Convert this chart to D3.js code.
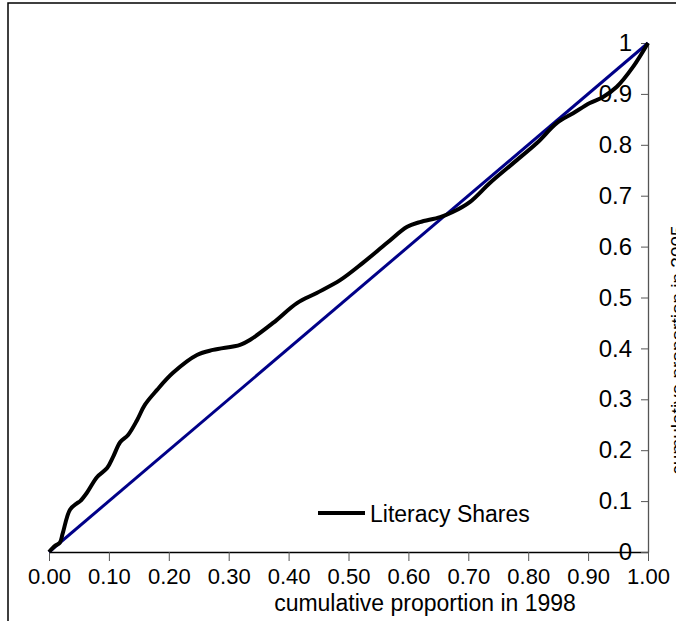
<!DOCTYPE html>
<html lang="en">
  <head>
    <meta charset="utf-8">
    <title>Literacy Shares</title>
    <script src="https://cdn.jsdelivr.net/npm/d3@7"></script>
    <style>
      body { margin: 0; background: #fff; }
      text { font-family: "Liberation Sans", Arial, sans-serif; fill: #000; }
    </style>
  </head>
  <body>
    <script>

      // cumulative proportion in 1998 (x) and in 2005 (y)
      var share1998 = [0, 0.010, 0.018, 0.023, 0.035, 0.047, 0.052, 0.063, 0.080, 0.097, 0.107, 0.119,
                       0.132, 0.147, 0.160, 0.180, 0.207, 0.247, 0.274, 0.319, 0.336, 0.374, 0.414,
                       0.447, 0.486, 0.524, 0.564, 0.598, 0.619, 0.653, 0.674, 0.703, 0.736, 0.775,
                       0.815, 0.848, 0.875, 0.903, 0.925, 0.948, 0.975, 1];
      var share2005 = [0, 0.012, 0.018, 0.037, 0.083, 0.096, 0.100, 0.116, 0.147, 0.165, 0.187, 0.216,
                       0.230, 0.259, 0.289, 0.318, 0.352, 0.387, 0.397, 0.407, 0.417, 0.450, 0.489,
                       0.509, 0.534, 0.568, 0.607, 0.639, 0.648, 0.658, 0.668, 0.688, 0.725, 0.764,
                       0.804, 0.843, 0.862, 0.882, 0.894, 0.914, 0.953, 1];
      var equality = [0, 1];

      var xTicks = [0, 0.1, 0.2, 0.3, 0.4, 0.5, 0.6, 0.7, 0.8, 0.9, 1];
      var yTicks = [0, 0.1, 0.2, 0.3, 0.4, 0.5, 0.6, 0.7, 0.8, 0.9, 1];
      var seriesName = "Literacy Shares";

      var W = 676, H = 621;
      var svg = d3.select("body").append("svg")
                  .attr("width", W)
                  .attr("height", H);

      // outer frame (right and bottom edges fall outside the picture)
      svg.append("rect")
         .attr("x", 8).attr("y", 3)
         .attr("width", 700).attr("height", 700)
         .attr("fill", "none").attr("stroke", "#000").attr("stroke-width", 1.5);

      var x = d3.scaleLinear().domain([0, 1]).range([49, 648]);
      var y = d3.scaleLinear().domain([0, 1]).range([552, 43]);

      // x axis at the bottom
      var gx = svg.append("g")
         .attr("transform", "translate(0," + y(0) + ")")
         .call(d3.axisBottom(x).tickValues(xTicks).tickFormat(d3.format(".2f"))
                 .tickSizeInner(9).tickSizeOuter(0).tickPadding(7));
      gx.select(".domain").attr("stroke", "#000").attr("stroke-width", 1.3);
      gx.selectAll(".tick line").attr("stroke", "#555");
      gx.selectAll("text").attr("font-size", 22).attr("font-family", "Liberation Sans, Arial, sans-serif");

      // y axis on the right, ticks pointing inward
      var gy = svg.append("g")
         .attr("transform", "translate(" + x(1) + ",0)")
         .call(d3.axisLeft(y).tickValues(yTicks).tickFormat(d3.format("~g"))
                 .tickSizeInner(7).tickSizeOuter(0).tickPadding(9));
      gy.select(".domain").attr("stroke", "#555").attr("stroke-width", 1.3);
      gy.selectAll(".tick line").attr("stroke", "#555");
      gy.selectAll("text").attr("font-size", 24).attr("font-family", "Liberation Sans, Arial, sans-serif");

      // axis titles
      svg.append("text")
         .attr("x", 425).attr("y", 611)
         .attr("text-anchor", "middle")
         .attr("font-size", 23)
         .text("cumulative proportion in 1998");

      svg.append("text")
         .attr("transform", "translate(684,350) rotate(-90)")
         .attr("text-anchor", "middle")
         .attr("font-size", 19)
         .text("cumulative proportion in 2005");

      // line of equality
      svg.append("line")
         .attr("x1", x(equality[0])).attr("y1", y(equality[0]))
         .attr("x2", x(equality[1])).attr("y2", y(equality[1]))
         .attr("stroke", "#000088").attr("stroke-width", 3);

      // literacy curve
      var pts = share1998.map(function(d, i) { return [d, share2005[i]]; });
      var line = d3.line()
                   .x(function(d) { return x(d[0]); })
                   .y(function(d) { return y(d[1]); })
                   .curve(d3.curveCatmullRom.alpha(0.5));
      svg.append("path")
         .attr("d", line(pts))
         .attr("fill", "none")
         .attr("stroke", "#000")
         .attr("stroke-width", 4)
         .attr("stroke-linejoin", "round");

      // legend
      svg.append("line")
         .attr("x1", 318).attr("x2", 365).attr("y1", 513).attr("y2", 513)
         .attr("stroke", "#000").attr("stroke-width", 4);
      svg.append("text")
         .attr("x", 370).attr("y", 522)
         .attr("font-size", 23)
         .text(seriesName);

    </script>
  </body>
</html>
